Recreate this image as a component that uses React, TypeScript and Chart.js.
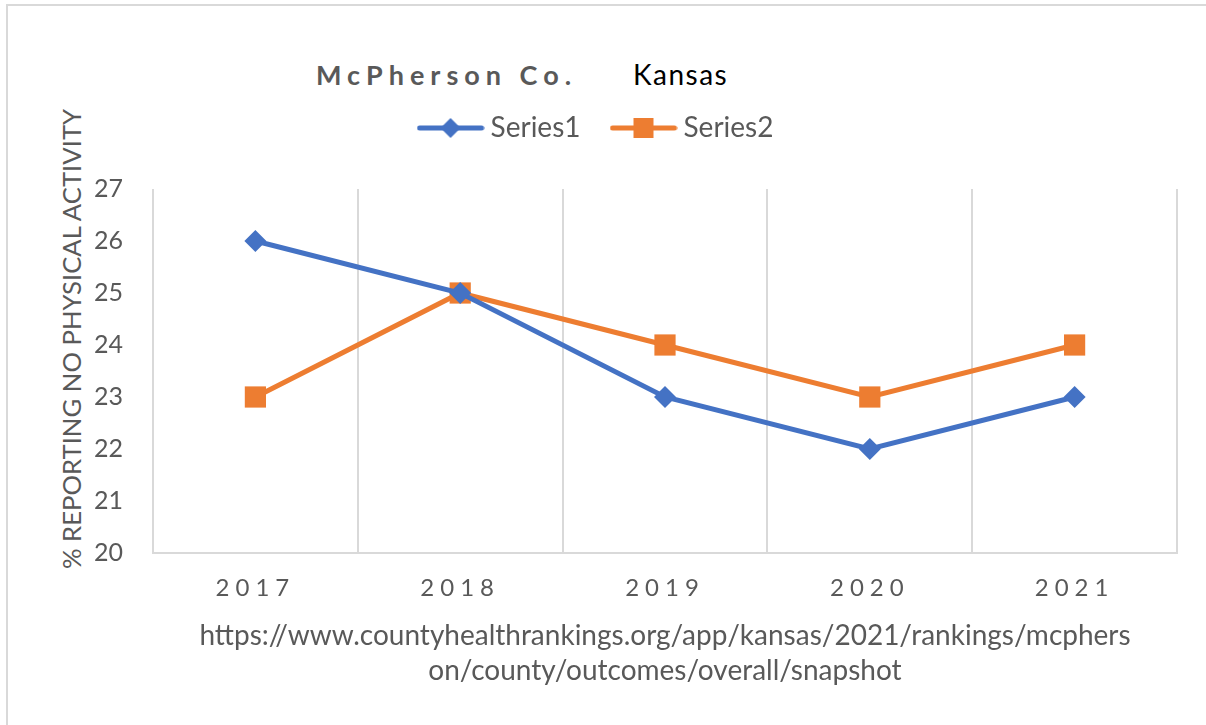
import React, { useEffect, useRef } from 'react';
import { Chart, registerables } from 'chart.js';

Chart.register(...registerables);

const years = ['2017', '2018', '2019', '2020', '2021'];
const series1 = [26, 25, 23, 22, 23];
const series2 = [23, 25, 24, 23, 24];
const seriesNames = ['Series1', 'Series2'];
const yMin = 20;
const yMax = 27;
const yStep = 1;
const titleCounty = 'McPherson Co.';
const titleState = 'Kansas';
const yTitle = '% REPORTING NO PHYSICAL ACTIVITY';
const xTitle = [
  'https://www.countyhealthrankings.org/app/kansas/2021/rankings/mcphers',
  'on/county/outcomes/overall/snapshot',
];

const BLUE = '#4472C4';
const ORANGE = '#ED7D31';
const GRAY = '#595959';
const GRID = '#d9d9d9';
const FONT = 'Lato, "Open Sans", sans-serif';

function legendIcon(color: string, shape: 'diamond' | 'square') {
  const c = document.createElement('canvas');
  c.width = 68;
  c.height = 24;
  const ctx = c.getContext('2d')!;
  ctx.strokeStyle = color;
  ctx.lineWidth = 5;
  ctx.lineCap = 'round';
  ctx.beginPath();
  ctx.moveTo(3, 12);
  ctx.lineTo(65, 12);
  ctx.stroke();
  ctx.fillStyle = color;
  ctx.beginPath();
  if (shape === 'diamond') {
    ctx.moveTo(34, 2);
    ctx.lineTo(44, 12);
    ctx.lineTo(34, 22);
    ctx.lineTo(24, 12);
    ctx.closePath();
  } else {
    ctx.rect(24, 2, 20, 20);
  }
  ctx.fill();
  return c;
}

const tweakPlugin = {
  id: 'tweaks',
  beforeUpdate(chart: any) {
    const lg = chart.legend;
    if (lg && !lg.__patched) {
      const orig = lg.fit.bind(lg);
      lg.fit = () => {
        orig();
        lg.height += 37;
      };
      lg.__patched = true;
    }
  },
  afterUpdate(chart: any) {
    const xs = chart.scales.x;
    if (xs && !xs.__patched) {
      const orig = xs.drawLabels.bind(xs);
      xs.drawLabels = (area: any) => {
        const ctx = chart.ctx;
        ctx.save();
        (ctx as any).letterSpacing = '6px';
        orig(area);
        ctx.restore();
      };
      xs.__patched = true;
    }
  },
};

export default function App() {
  const ref = useRef<HTMLCanvasElement>(null);

  useEffect(() => {
    if (!ref.current) return;
    const icons = [legendIcon(BLUE, 'diamond'), legendIcon(ORANGE, 'square')];
    const chart = new Chart(ref.current, {
      type: 'line',
      data: {
        labels: years,
        datasets: [
          {
            label: seriesNames[0],
            data: series1,
            borderColor: BLUE,
            backgroundColor: BLUE,
            borderWidth: 5,
            pointStyle: 'rectRot',
            pointRadius: 11,
            pointHoverRadius: 11,
            pointBorderWidth: 0,
            tension: 0,
          },
          {
            label: seriesNames[1],
            data: series2,
            borderColor: ORANGE,
            backgroundColor: ORANGE,
            borderWidth: 5,
            pointStyle: 'rect',
            pointRadius: 15,
            pointHoverRadius: 15,
            pointBorderWidth: 0,
            tension: 0,
          },
        ],
      },
      options: {
        animation: false,
        responsive: true,
        maintainAspectRatio: false,
        layout: { padding: { top: 77, right: 29, left: 21, bottom: 0 } },
        plugins: {
          tooltip: { enabled: false },
          title: { display: false },
          legend: {
            display: true,
            position: 'top',
            labels: {
              usePointStyle: true,
              pointStyleWidth: 52,
              padding: 37,
              color: GRAY,
              font: { family: FONT, size: 28 },
              generateLabels: (ch: any) =>
                ch.data.datasets.map((ds: any, i: number) => ({
                  text: ds.label,
                  fillStyle: ds.borderColor,
                  strokeStyle: ds.borderColor,
                  lineWidth: 0,
                  pointStyle: icons[i],
                  hidden: false,
                  datasetIndex: i,
                  fontColor: GRAY,
                })),
            },
          },
        },
        scales: {
          x: {
            type: 'category',
            offset: true,
            grid: { display: true, color: GRID, lineWidth: 2, drawTicks: false, offset: true },
            border: { display: true, color: GRID, width: 2 },
            ticks: { color: GRAY, font: { family: FONT, size: 24 }, padding: 21 },
            title: {
              display: true,
              text: xTitle,
              color: GRAY,
              font: { family: FONT, size: 28, lineHeight: 1.25 },
              padding: { top: 0, bottom: 37 },
            },
            afterFit: (s: any) => {
              s.height = 172;
            },
          },
          y: {
            min: yMin,
            max: yMax,
            grid: { display: false, drawTicks: false },
            border: { display: false },
            ticks: { stepSize: yStep, color: GRAY, font: { family: FONT, size: 25 }, padding: 30 },
            afterFit: (s: any) => {
              s.width = 132;
            },
          },
        },
      },
      plugins: [tweakPlugin],
    });
    return () => chart.destroy();
  }, []);

  return (
    <div style={{ position: 'absolute', left: 0, top: 0, width: 1206, height: 725, background: '#fff', overflow: 'hidden' }}>
      <div
        style={{
          position: 'absolute',
          left: 6,
          top: 4,
          right: 0,
          bottom: 0,
          borderTop: `2px solid ${GRID}`,
          borderLeft: `2px solid ${GRID}`,
        }}
      />
      <div
        style={{
          position: 'absolute',
          left: 316,
          top: 61,
          fontFamily: FONT,
          fontSize: 27,
          lineHeight: '27px',
          fontWeight: 700,
          letterSpacing: 6,
          color: GRAY,
          whiteSpace: 'nowrap',
        }}
      >
        {titleCounty}
      </div>
      <div
        style={{
          position: 'absolute',
          left: 633,
          top: 60,
          fontFamily: FONT,
          fontSize: 28,
          lineHeight: '28px',
          letterSpacing: 1.5,
          color: '#000',
          whiteSpace: 'nowrap',
        }}
      >
        {titleState}
      </div>
      <div
        style={{
          position: 'absolute',
          left: 71,
          top: 339,
          transform: 'translate(-50%, -50%) rotate(-90deg)',
          fontFamily: FONT,
          fontSize: 25.7,
          lineHeight: '26px',
          color: GRAY,
          whiteSpace: 'nowrap',
        }}
      >
        {yTitle}
      </div>
      <canvas ref={ref} style={{ position: 'absolute', left: 0, top: 0, width: 1206, height: 725 }} />
    </div>
  );
}
